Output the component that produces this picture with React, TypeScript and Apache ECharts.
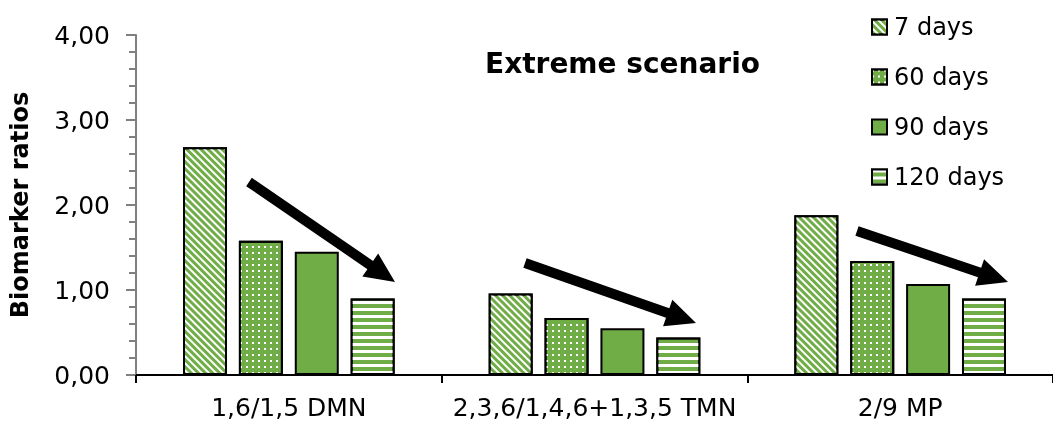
import { useEffect, useRef } from "react";
import * as echarts from "echarts";

const categories = ["1,6/1,5 DMN", "2,3,6/1,4,6+1,3,5 TMN", "2/9 MP"];
const seriesNames = ["7 days", "60 days", "90 days", "120 days"];
const days7 = [2.68, 0.96, 1.88];
const days60 = [1.58, 0.67, 1.34];
const days90 = [1.45, 0.55, 1.07];
const days120 = [0.9, 0.44, 0.9];
const yMin = 0;
const yMax = 4;
const yStep = 1;
const chartTitle = "Extreme scenario";
const yName = "Biomarker ratios";

const GREEN = "#70AD47";
const FONT = "DejaVu Sans";

// trend arrows (annotation, pixel space): start x, start y, tip x, tip y
const arrowDefs = [
  [249, 182, 395, 282],
  [525, 263, 696, 323],
  [857, 231, 1008, 282],
];

function arrowPoints(x1: number, y1: number, x2: number, y2: number) {
  const shaft = 5;
  const headLen = 30;
  const headHalf = 14;
  const dx = x2 - x1;
  const dy = y2 - y1;
  const len = Math.sqrt(dx * dx + dy * dy);
  const ux = dx / len;
  const uy = dy / len;
  const px = -uy;
  const py = ux;
  const bx = x2 - ux * headLen;
  const by = y2 - uy * headLen;
  return [
    [x1 + px * shaft, y1 + py * shaft],
    [bx + px * shaft, by + py * shaft],
    [bx + px * headHalf, by + py * headHalf],
    [x2, y2],
    [bx - px * headHalf, by - py * headHalf],
    [bx - px * shaft, by - py * shaft],
    [x1 - px * shaft, y1 - py * shaft],
  ];
}

export default function App() {
  const ref = useRef<HTMLDivElement>(null);
  useEffect(() => {
    if (!ref.current) return;
    const chart = echarts.init(ref.current, undefined, { renderer: "svg" });
    const decals: any[] = [
      { symbol: "rect", symbolSize: 1, color: "#ffffff", dashArrayX: [1, 0], dashArrayY: [2, 3], rotation: Math.PI / 4 },
      { symbol: "rect", symbolSize: 1, color: "#ffffff", dashArrayX: [2, 4], dashArrayY: [2, 4], rotation: 0 },
      null,
      { symbol: "rect", symbolSize: 1, color: "#ffffff", dashArrayX: [1, 0], dashArrayY: [3, 4], rotation: 0 },
    ];
    const values = [days7, days60, days90, days120];
    const series = seriesNames.map((name, i) => {
      const itemStyle: any = { color: GREEN, borderColor: "#000", borderWidth: 2 };
      if (decals[i]) itemStyle.decal = decals[i];
      return {
        name,
        type: "bar",
        data: values[i],
        barWidth: 44,
        barGap: "27%",
        itemStyle,
      };
    });
    chart.setOption({
      animation: false,
      title: {
        text: chartTitle,
        left: 480,
        top: 44,
        textStyle: { fontFamily: FONT, fontSize: 28, fontWeight: "bold", color: "#000" },
      },
      legend: {
        orient: "vertical",
        left: 866,
        top: 10,
        itemWidth: 15,
        itemHeight: 15,
        itemGap: 26,
        icon: "rect",
        data: seriesNames,
        textStyle: { fontFamily: FONT, fontSize: 24, color: "#000", lineHeight: 24, padding: [0, 0, 0, 2] },
      },
      grid: { left: 135, top: 35, width: 923, bottom: 50, containLabel: false },
      xAxis: {
        type: "category",
        data: categories,
        boundaryGap: true,
        axisLine: { lineStyle: { color: "#000", width: 2 } },
        axisTick: { show: true, interval: 0, length: 8, lineStyle: { color: "#000", width: 2 } },
        axisLabel: { interval: 0, hideOverlap: false, fontFamily: FONT, fontSize: 25, color: "#000", margin: 20 },
        splitLine: { show: false },
      },
      yAxis: {
        type: "value",
        min: yMin,
        max: yMax,
        interval: yStep,
        name: yName,
        nameLocation: "middle",
        nameGap: 104,
        nameTextStyle: { fontFamily: FONT, fontSize: 24, fontWeight: "bold", color: "#000" },
        axisLine: { show: true, lineStyle: { color: "#808080", width: 2 } },
        axisTick: { show: true, length: 10, lineStyle: { color: "#808080", width: 2 } },
        minorTick: { show: true, splitNumber: 5, length: 7, lineStyle: { color: "#808080", width: 2 } },
        axisLabel: {
          fontFamily: FONT,
          fontSize: 25,
          color: "#000",
          margin: 26,
          formatter: (v: number) => v.toFixed(2).replace(".", ","),
        },
        splitLine: { show: false },
      },
      series,
      graphic: arrowDefs.map((a) => ({
        type: "polygon",
        shape: { points: arrowPoints(a[0], a[1], a[2], a[3]) },
        style: { fill: "#000" },
        z: 100,
      })),
    });
    return () => chart.dispose();
  }, []);
  return <div ref={ref} style={{ position: "fixed", left: 0, top: 0, width: 1053, height: 425 }} />;
}
